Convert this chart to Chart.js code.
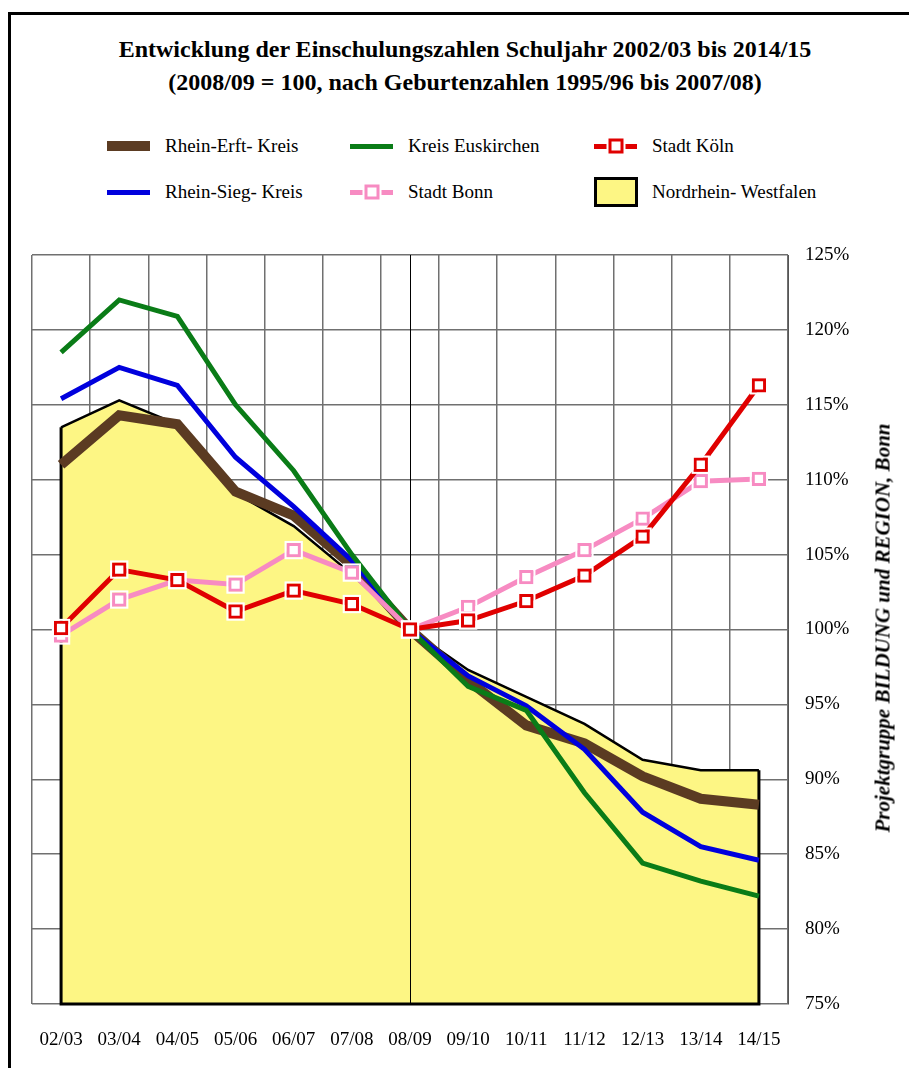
<!DOCTYPE html>
<html>
<head>
<meta charset="utf-8">
<script src="https://cdn.jsdelivr.net/npm/chart.js@4.4.1/dist/chart.umd.min.js"></script>
<style>
    body { margin: 0; background: #fff; }
    #wrap { position: relative; width: 909px; height: 1068px; overflow: hidden; font-family: "Liberation Serif", "Times New Roman", serif; color: #000; }
    #frame { position: absolute; left: 8px; top: 12px; width: 1000px; height: 1200px; border-left: 3px solid #000; border-top: 3px solid #000; }
    #title { position: absolute; left: 0; top: 33px; width: 930px; text-align: center; font-weight: bold; font-size: 24px; line-height: 33px; }
    #chartCanvas { position: absolute; left: 0; top: 0; }
    .item { position: absolute; height: 30px; font-size: 19px; line-height: 30px; white-space: nowrap; }
    .item .sw { position: absolute; left: 0; top: 50%; width: 43px; }
    .item .txt { position: absolute; left: 58px; top: 0; }
    .item .mk { position: absolute; left: 50%; top: 50%; width: 9px; height: 9px; background: #fff; transform: translate(-50%, -50%); }
    #credit { position: absolute; left: 883px; top: 628px; transform: translate(-50%, -50%) rotate(-90deg); font-weight: bold; font-style: italic; font-size: 21px; white-space: nowrap; }
</style>
</head>
<body>
<div id="wrap">
    <div id="frame"></div>
    <div id="title">Entwicklung der Einschulungszahlen Schuljahr 2002/03 bis 2014/15<br>(2008/09 = 100, nach Geburtenzahlen 1995/96 bis 2007/08)</div>
    <div id="legend"></div>
    <canvas id="chartCanvas" width="909" height="1068"></canvas>
    <div id="credit">Projektgruppe BILDUNG und REGION, Bonn</div>
</div>
<script>
const categories = ["02/03", "03/04", "04/05", "05/06", "06/07", "07/08", "08/09", "09/10", "10/11", "11/12", "12/13", "13/14", "14/15"];

const rheinErft  = [111.0, 114.3, 113.7, 109.2, 107.6, 104.3, 100, 96.6, 93.6, 92.4, 90.2, 88.7, 88.3];
const rheinSieg  = [115.4, 117.5, 116.3, 111.5, 108.2, 104.6, 100, 96.9, 94.9, 92.0, 87.8, 85.5, 84.6];
const euskirchen = [118.5, 122.0, 120.9, 115.0, 110.6, 105.0, 100, 96.2, 94.6, 89.1, 84.4, 83.2, 82.2];
const koeln      = [100.1, 104.0, 103.3, 101.2, 102.6, 101.7, 100, 100.6, 101.9, 103.6, 106.2, 111.0, 116.3];
const bonn       = [99.6, 102.0, 103.3, 103.0, 105.3, 103.8, 100, 101.5, 103.5, 105.3, 107.4, 109.9, 110.05];
const nrw        = [113.5, 115.3, 113.7, 109.1, 106.9, 103.7, 100, 97.3, 95.5, 93.7, 91.3, 90.6, 90.6];

const baseIndex = 6; // 2008/09 = 100
const yMin = 75, yMax = 125, yStep = 5;

const BROWN = "#5b3b22", GREEN = "#0a7c17", RED = "#e00000", BLUE = "#0000dd", PINK = "#f78bc2", YELLOW = "#fdf684";
const FONT = "'Liberation Serif', 'Times New Roman', serif";

// legend (3 columns, 2 rows like the original)
const legendItems = [
    { label: "Rhein-Erft- Kreis", kind: "line", color: BROWN, width: 10, x: 107, y: 131 },
    { label: "Kreis Euskirchen", kind: "line", color: GREEN, width: 5, x: 350, y: 131 },
    { label: "Stadt Köln", kind: "marker", color: RED, width: 5, x: 594, y: 131 },
    { label: "Rhein-Sieg- Kreis", kind: "line", color: BLUE, width: 5, x: 107, y: 177 },
    { label: "Stadt Bonn", kind: "marker", color: PINK, width: 5, x: 350, y: 177 },
    { label: "Nordrhein- Westfalen", kind: "box", color: YELLOW, width: 3, x: 594, y: 177 }
];

const legend = document.getElementById("legend");
legendItems.forEach(it => {
    const el = document.createElement("div");
    el.className = "item";
    el.style.left = it.x + "px";
    el.style.top = it.y + "px";
    const sw = document.createElement("div");
    sw.className = "sw";
    if (it.kind === "box") {
        sw.style.height = "24px";
        sw.style.width = "38px";
        sw.style.marginTop = "-15px";
        sw.style.background = it.color;
        sw.style.border = "3px solid #000";
    } else {
        sw.style.height = it.width + "px";
        sw.style.marginTop = (-it.width / 2) + "px";
        sw.style.background = it.color;
        if (it.kind === "marker") {
            const mk = document.createElement("div");
            mk.className = "mk";
            mk.style.border = "3px solid " + it.color;
            mk.style.boxShadow = "0 0 0 2px #fff";
            sw.appendChild(mk);
        }
    }
    const txt = document.createElement("div");
    txt.className = "txt";
    txt.textContent = it.label;
    el.appendChild(sw);
    el.appendChild(txt);
    legend.appendChild(el);
});

// NRW area outline + 08/09 reference line, white halo round the square markers
const nrwFrame = {
    id: "nrwFrame",
    afterDatasetDraw(chart, args) {
        const ds = chart.data.datasets[args.index];
        const { ctx, chartArea } = chart;
        const x = chart.scales.x, y = chart.scales.y;
        if (ds.pointStyle === "rect") {
            const half = ds.pointRadius * Math.SQRT1_2 + ds.pointBorderWidth / 2 + 1;
            ctx.save();
            ctx.strokeStyle = "#fff";
            ctx.lineWidth = 2;
            args.meta.data.forEach(pt => {
                ctx.strokeRect(pt.x - half, pt.y - half, half * 2, half * 2);
            });
            ctx.restore();
            return;
        }
        if (ds.label !== "Nordrhein- Westfalen") return;
        const x0 = x.getPixelForValue(0);
        const x1 = x.getPixelForValue(categories.length - 1);
        const yb = y.getPixelForValue(yMin);
        ctx.save();
        ctx.strokeStyle = "#000";
        ctx.lineWidth = 3;
        ctx.beginPath();
        ctx.moveTo(x0, y.getPixelForValue(nrw[0]));
        ctx.lineTo(x0, yb);
        ctx.lineTo(x1, yb);
        ctx.lineTo(x1, y.getPixelForValue(nrw[nrw.length - 1]));
        ctx.stroke();
        const xr = Math.round(x.getPixelForValue(baseIndex)) + 0.5;
        ctx.lineWidth = 1;
        ctx.beginPath();
        ctx.moveTo(xr, chartArea.top);
        ctx.lineTo(xr, chartArea.bottom);
        ctx.stroke();
        ctx.restore();
    }
};

const markerLine = (label, data, color, order) => ({
    label: label,
    data: data,
    borderColor: color,
    borderWidth: 5,
    pointStyle: "rect",
    pointRadius: 8,
    pointBorderWidth: 3,
    pointBorderColor: color,
    pointBackgroundColor: "#fff",
    tension: 0,
    fill: false,
    order: order
});

const ctx = document.getElementById("chartCanvas").getContext("2d");
const chart = new Chart(ctx, {
    type: "line",
    data: {
        labels: categories,
        datasets: [
            markerLine("Stadt Köln", koeln, RED, 0),
            markerLine("Stadt Bonn", bonn, PINK, 1),
            { label: "Kreis Euskirchen", data: euskirchen, borderColor: GREEN, borderWidth: 5, pointRadius: 0, fill: false, order: 2 },
            { label: "Rhein-Sieg- Kreis", data: rheinSieg, borderColor: BLUE, borderWidth: 5, pointRadius: 0, fill: false, order: 3 },
            { label: "Rhein-Erft- Kreis", data: rheinErft, borderColor: BROWN, borderWidth: 10, pointRadius: 0, fill: false, order: 4 },
            { label: "Nordrhein- Westfalen", data: nrw, borderColor: "#000", borderWidth: 2.5, backgroundColor: YELLOW, pointRadius: 0, fill: "start", order: 5 }
        ]
    },
    options: {
        responsive: false,
        animation: false,
        devicePixelRatio: 1,
        layout: { padding: { left: 32, top: 255, right: 0, bottom: 0 } },
        plugins: {
            legend: { display: false },
            title: { display: false },
            tooltip: { enabled: false }
        },
        scales: {
            x: {
                type: "category",
                offset: true,
                grid: { offset: true, color: "#707070", lineWidth: 1.5, drawTicks: false },
                border: { display: false },
                ticks: { color: "#000", font: { family: FONT, size: 19 }, padding: 25, maxRotation: 0, autoSkip: false },
                afterFit(scale) { scale.height = 64; }
            },
            y: {
                position: "right",
                min: yMin,
                max: yMax,
                grid: { color: "#707070", lineWidth: 1.5, drawTicks: false },
                border: { display: true, color: "#555", width: 1 },
                ticks: {
                    stepSize: yStep,
                    color: "#000",
                    font: { family: FONT, size: 19 },
                    padding: 17,
                    callback: v => v + "%"
                },
                afterFit(scale) { scale.width = 121; }
            }
        }
    },
    plugins: [nrwFrame]
});
</script>
</body>
</html>
